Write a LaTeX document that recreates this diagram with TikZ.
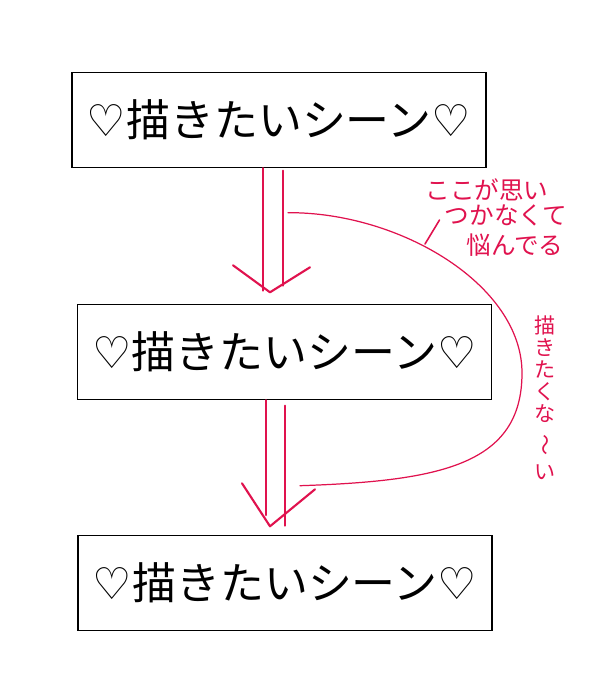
\documentclass[tikz,border=0pt]{standalone}
\usepackage{fontspec}
\newfontfamily\jpfont{Noto Sans CJK JP}
\newfontfamily\heartfont{DejaVu Sans}
\usetikzlibrary{positioning}
\definecolor{penred}{RGB}{224,18,78}
\newcommand{\heart}{{\heartfont ♡}}

\begin{document}
\begin{tikzpicture}[scene/.style={
			draw,
			rectangle,
			line width=0.8pt,
			minimum width=8.28cm,
			minimum height=1.9cm,
			font=\jpfont\fontsize{25}{30}\selectfont,
		}, redpen/.style={penred, line width=1.2pt, line cap=round, line join=round},
		note/.style={penred, inner sep=0pt, font=\jpfont\fontsize{14}{16}\selectfont}]
		\useasboundingbox (0,0) rectangle (11.98,-13.6);
		
		\node[scene] (scene1) at (5.58,-2.40) {\heart 描きたいシーン\heart};
		\node[scene] (scene2) at (5.69,-7.04) {\heart 描きたいシーン\heart};
		\node[scene] (scene3) at (5.70,-11.66) {\heart 描きたいシーン\heart};
		
		% arrow 1 -> 2
		\draw[redpen] (scene1.south)++(-0.32,0) --++(0,-2.45);
		\draw[redpen] (scene1.south)++(0.08,-0.05) --++(0,-2.3);
		\draw[redpen] (scene2.north)++(-1.03,0.77) --++(0.74,-0.54) --++(0.8,0.5);
		
		% arrow 2 -> 3
		\draw[redpen] (scene2.south)++(-0.37,0) --++(0,-2.3);
		\draw[redpen] (scene2.south)++(0.01,-0.11) --++(0,-2.4);
		\draw[redpen] (scene3.north)++(-0.86,1.03) --++(0.56,-0.86) --++(0.9,0.74);
		
		% the loop
		\path (scene1.south)++(0.18,-0.89) coordinate (loopstart);
		\path (scene2.south)++(0.31,-1.71) coordinate (loopend);
		\draw[redpen, line width=0.7pt] (loopstart) .. controls (8.0,-4.24) and (10.44,-5.7) .. (10.44,-7.46)
			.. controls (10.44,-9.3) and (8.8,-9.62) .. (loopend);
		
		\node[note] (note1) at (9.74,-3.80) {ここが思い};
		\node[note] (note2) at (10.12,-4.30) {つかなくて};
		\node[note] (note3) at (10.30,-4.90) {悩んでる};
		\coordinate (leaderfoot) at (8.50,-4.88);
		\draw[redpen, line width=0.9pt] (leaderfoot) -- ([xshift=-1mm,yshift=-1mm]note2.west);
		
		\node[note, align=center, font=\jpfont\fontsize{12}{12.5}\selectfont] (sigh) at (10.90,-7.95)
			{描\\き\\た\\く\\な\\[4pt]\hspace*{-2pt}\rotatebox[origin=c]{-90}{〜}\\[4pt]い};
	\end{tikzpicture}
\end{document}
